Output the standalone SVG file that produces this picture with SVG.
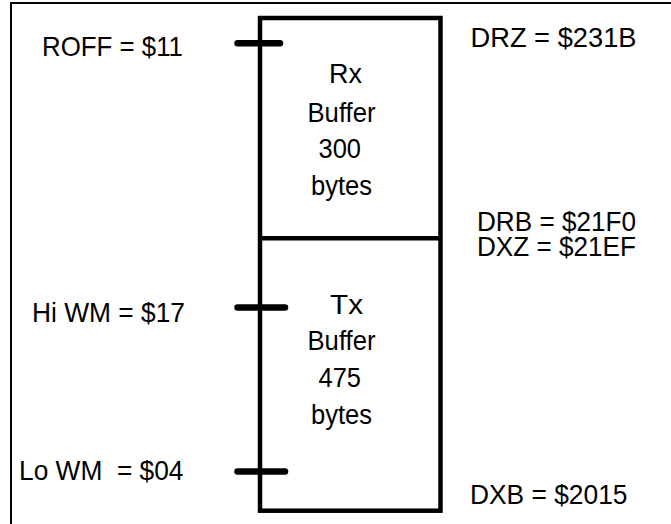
<svg xmlns="http://www.w3.org/2000/svg" width="671" height="524" viewBox="0 0 671 524">
<style>
text{font-family:"Liberation Sans",Arial,sans-serif;font-size:27.5px;fill:#000}
.c{text-anchor:middle}
.box{fill:none;stroke:#000;stroke-width:4.5}
.tick{stroke:#000;stroke-width:6.5;stroke-linecap:round}
.frame{stroke:#000;stroke-width:2;fill:none}
</style>
<rect width="671" height="524" fill="#fff"/>
<path class="frame" d="M11,524 V3 H671"/>
<g id="buffer">
<rect class="box" x="260" y="18" width="180.5" height="492.7"/>
</g>
<g id="rx">
<text x="329" y="83.3" textLength="33" lengthAdjust="spacingAndGlyphs">Rx</text>
<text x="307.5" y="121.5" textLength="68" lengthAdjust="spacingAndGlyphs">Buffer</text>
<text x="318.5" y="158" textLength="42.5" lengthAdjust="spacingAndGlyphs">300</text>
<text x="311" y="195" textLength="61" lengthAdjust="spacingAndGlyphs">bytes</text>
</g>
<g id="tx">
<text x="330" y="313.7" textLength="33" lengthAdjust="spacingAndGlyphs">Tx</text>
<text x="307.5" y="350" textLength="68" lengthAdjust="spacingAndGlyphs">Buffer</text>
<text x="318.5" y="387" textLength="42.5" lengthAdjust="spacingAndGlyphs">475</text>
<text x="311" y="423.7" textLength="61" lengthAdjust="spacingAndGlyphs">bytes</text>
</g>
<g id="connectors">
<line class="box" x1="260" y1="238.3" x2="440" y2="238.3"/>
<line class="tick" x1="237.5" y1="43.3" x2="280" y2="43.3"/>
<line class="tick" x1="237.5" y1="307.5" x2="285" y2="307.5"/>
<line class="tick" x1="237.5" y1="471.5" x2="285" y2="471.5"/>
</g>
<g id="labels">
<text x="42" y="55.7" textLength="141" lengthAdjust="spacingAndGlyphs">ROFF = $11</text>
<text x="32" y="322" textLength="153" lengthAdjust="spacingAndGlyphs">Hi WM = $17</text>
<text x="19" y="480.3" xml:space="preserve" textLength="164.5" lengthAdjust="spacingAndGlyphs">Lo WM  = $04</text>
<text x="470.5" y="46.7" textLength="166" lengthAdjust="spacingAndGlyphs">DRZ = $231B</text>
<text x="477" y="230.7" textLength="159" lengthAdjust="spacingAndGlyphs">DRB = $21F0</text>
<text x="477" y="256" textLength="159" lengthAdjust="spacingAndGlyphs">DXZ = $21EF</text>
<text x="470" y="503.7" textLength="157.5" lengthAdjust="spacingAndGlyphs">DXB = $2015</text>
</g>
</svg>
